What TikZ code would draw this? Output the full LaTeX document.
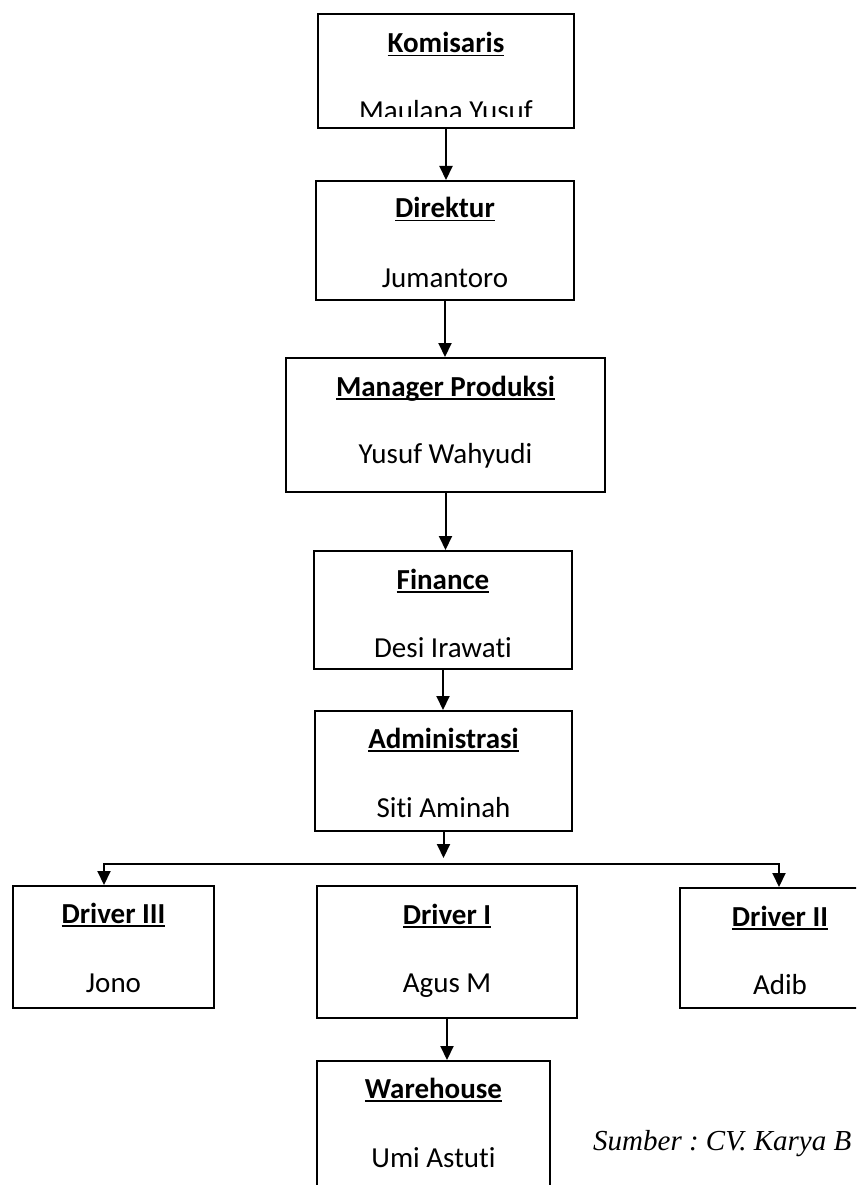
\documentclass[tikz,border=0pt]{standalone}
\usepackage{fontspec}
\setmainfont{Carlito}[Ligatures={NoCommon}]
\newfontfamily\srcfont{Liberation Serif}
\usetikzlibrary{arrows.meta,calc}
\newcommand\ulbox[1]{\setbox0\hbox{#1}\rlap{\rule[-3.5pt]{\wd0}{1.8pt}}\box0}
\frenchspacing

\begin{document}
\begin{tikzpicture}[
  x=1pt, y=-1pt,
  font=\fontsize{29}{35}\selectfont,
  box/.style={draw=black, line width=2pt, anchor=north west, inner sep=0pt},
  ttl/.style={anchor=base, inner sep=0pt, font=\fontsize{29}{35}\selectfont\bfseries},
  nm/.style={anchor=base, inner sep=0pt},
  arr/.style={draw=black, line width=2pt, -{Triangle[length=14pt,width=13pt]}},
  arrs/.style={draw=black, line width=2pt, {Triangle[length=14pt,width=13pt]}-{Triangle[length=14pt,width=13pt]}}
]
\useasboundingbox (0,0) rectangle (856,1185);
\clip (0,0) rectangle (856,1185);

% boxes
\node[box, minimum width=256pt, minimum height=114pt] (kom) at (317,13) {};
\node[box, minimum width=258pt, minimum height=119pt] (dir) at (315,180) {};
\node[box, minimum width=319pt, minimum height=134pt] (man) at (285,357) {};
\node[box, minimum width=258pt, minimum height=118pt] (fin) at (313,550) {};
\node[box, minimum width=257pt, minimum height=120pt] (adm) at (314,710) {};
\node[box, minimum width=201pt, minimum height=122pt] (drv3) at (12,885) {};
\node[box, minimum width=260pt, minimum height=132pt] (drv1) at (316,885) {};
\node[box, minimum width=200pt, minimum height=120pt] (drv2) at (679,887) {};
\node[box, minimum width=233pt, minimum height=140pt] (wh) at (316,1060) {};

% texts
\node[ttl] (komT) at ($(kom.north)+(0,40)$) {\ulbox{Komisaris}};
\begin{scope}
  \clip (317,13) rectangle (573,117);
  \node[nm] (komN) at ($(kom.north)+(0,108)$) {Maulana Yusuf};
\end{scope}
\node[ttl] (dirT) at ($(dir.north)+(0,38)$) {\ulbox{Direktur}};
\node[nm] (dirN) at ($(dir.north)+(0,107)$) {Jumantoro};
\node[ttl] (manT) at ($(man.north)+(0,39)$) {\ulbox{Manager Produksi}};
\node[nm] (manN) at ($(man.north)+(0,106)$) {Yusuf Wahyudi};
\node[ttl] (finT) at ($(fin.north)+(0,39)$) {\ulbox{Finance}};
\node[nm] (finN) at ($(fin.north)+(0,107)$) {Desi Irawati};
\node[ttl] (admT) at ($(adm.north)+(0,38)$) {\ulbox{Administrasi}};
\node[nm] (admN) at ($(adm.north)+(0,107)$) {Siti Aminah};
\node[ttl] (drv3T) at ($(drv3.north)+(0,38)$) {\ulbox{Driver III}};
\node[nm] (drv3N) at ($(drv3.north)+(0,107)$) {Jono};
\node[ttl] (drv1T) at ($(drv1.north)+(0,39)$) {\ulbox{Driver I}};
\node[nm] (drv1N) at ($(drv1.north)+(0,107)$) {Agus M};
\node[ttl] (drv2T) at ($(drv2.north)+(0,39)$) {\ulbox{Driver II}};
\node[nm] (drv2N) at ($(drv2.north)+(0,107)$) {Adib};
\node[ttl] (whT) at ($(wh.north)+(0,38)$) {\ulbox{Warehouse}};
\node[nm] (whN) at ($(wh.north)+(0,107)$) {Umi Astuti};
\node[anchor=base west, inner sep=0pt, font=\srcfont\itshape\fontsize{29}{35}\selectfont] (src) at (593,1150) {Sumber : CV. Karya B};

% arrows
\draw[arr] (kom.south) -- (kom.south |- dir.north);
\draw[arr] (dir.south) -- (dir.south |- man.north);
\draw[arr] (man.south) -- (man.south |- fin.north);
\draw[arr] (fin.south) -- (fin.south |- adm.north);
\draw[arr] (adm.south) -- ++(0,26);
\coordinate (jL) at (104,864);
\coordinate (jR) at (779,864);
\draw[arrs] (jL |- drv3.north) -- (jL) -- (jR) -- (jR |- drv2.north);
\draw[arr] (drv1.south) -- (drv1.south |- wh.north);
\end{tikzpicture}
\end{document}
